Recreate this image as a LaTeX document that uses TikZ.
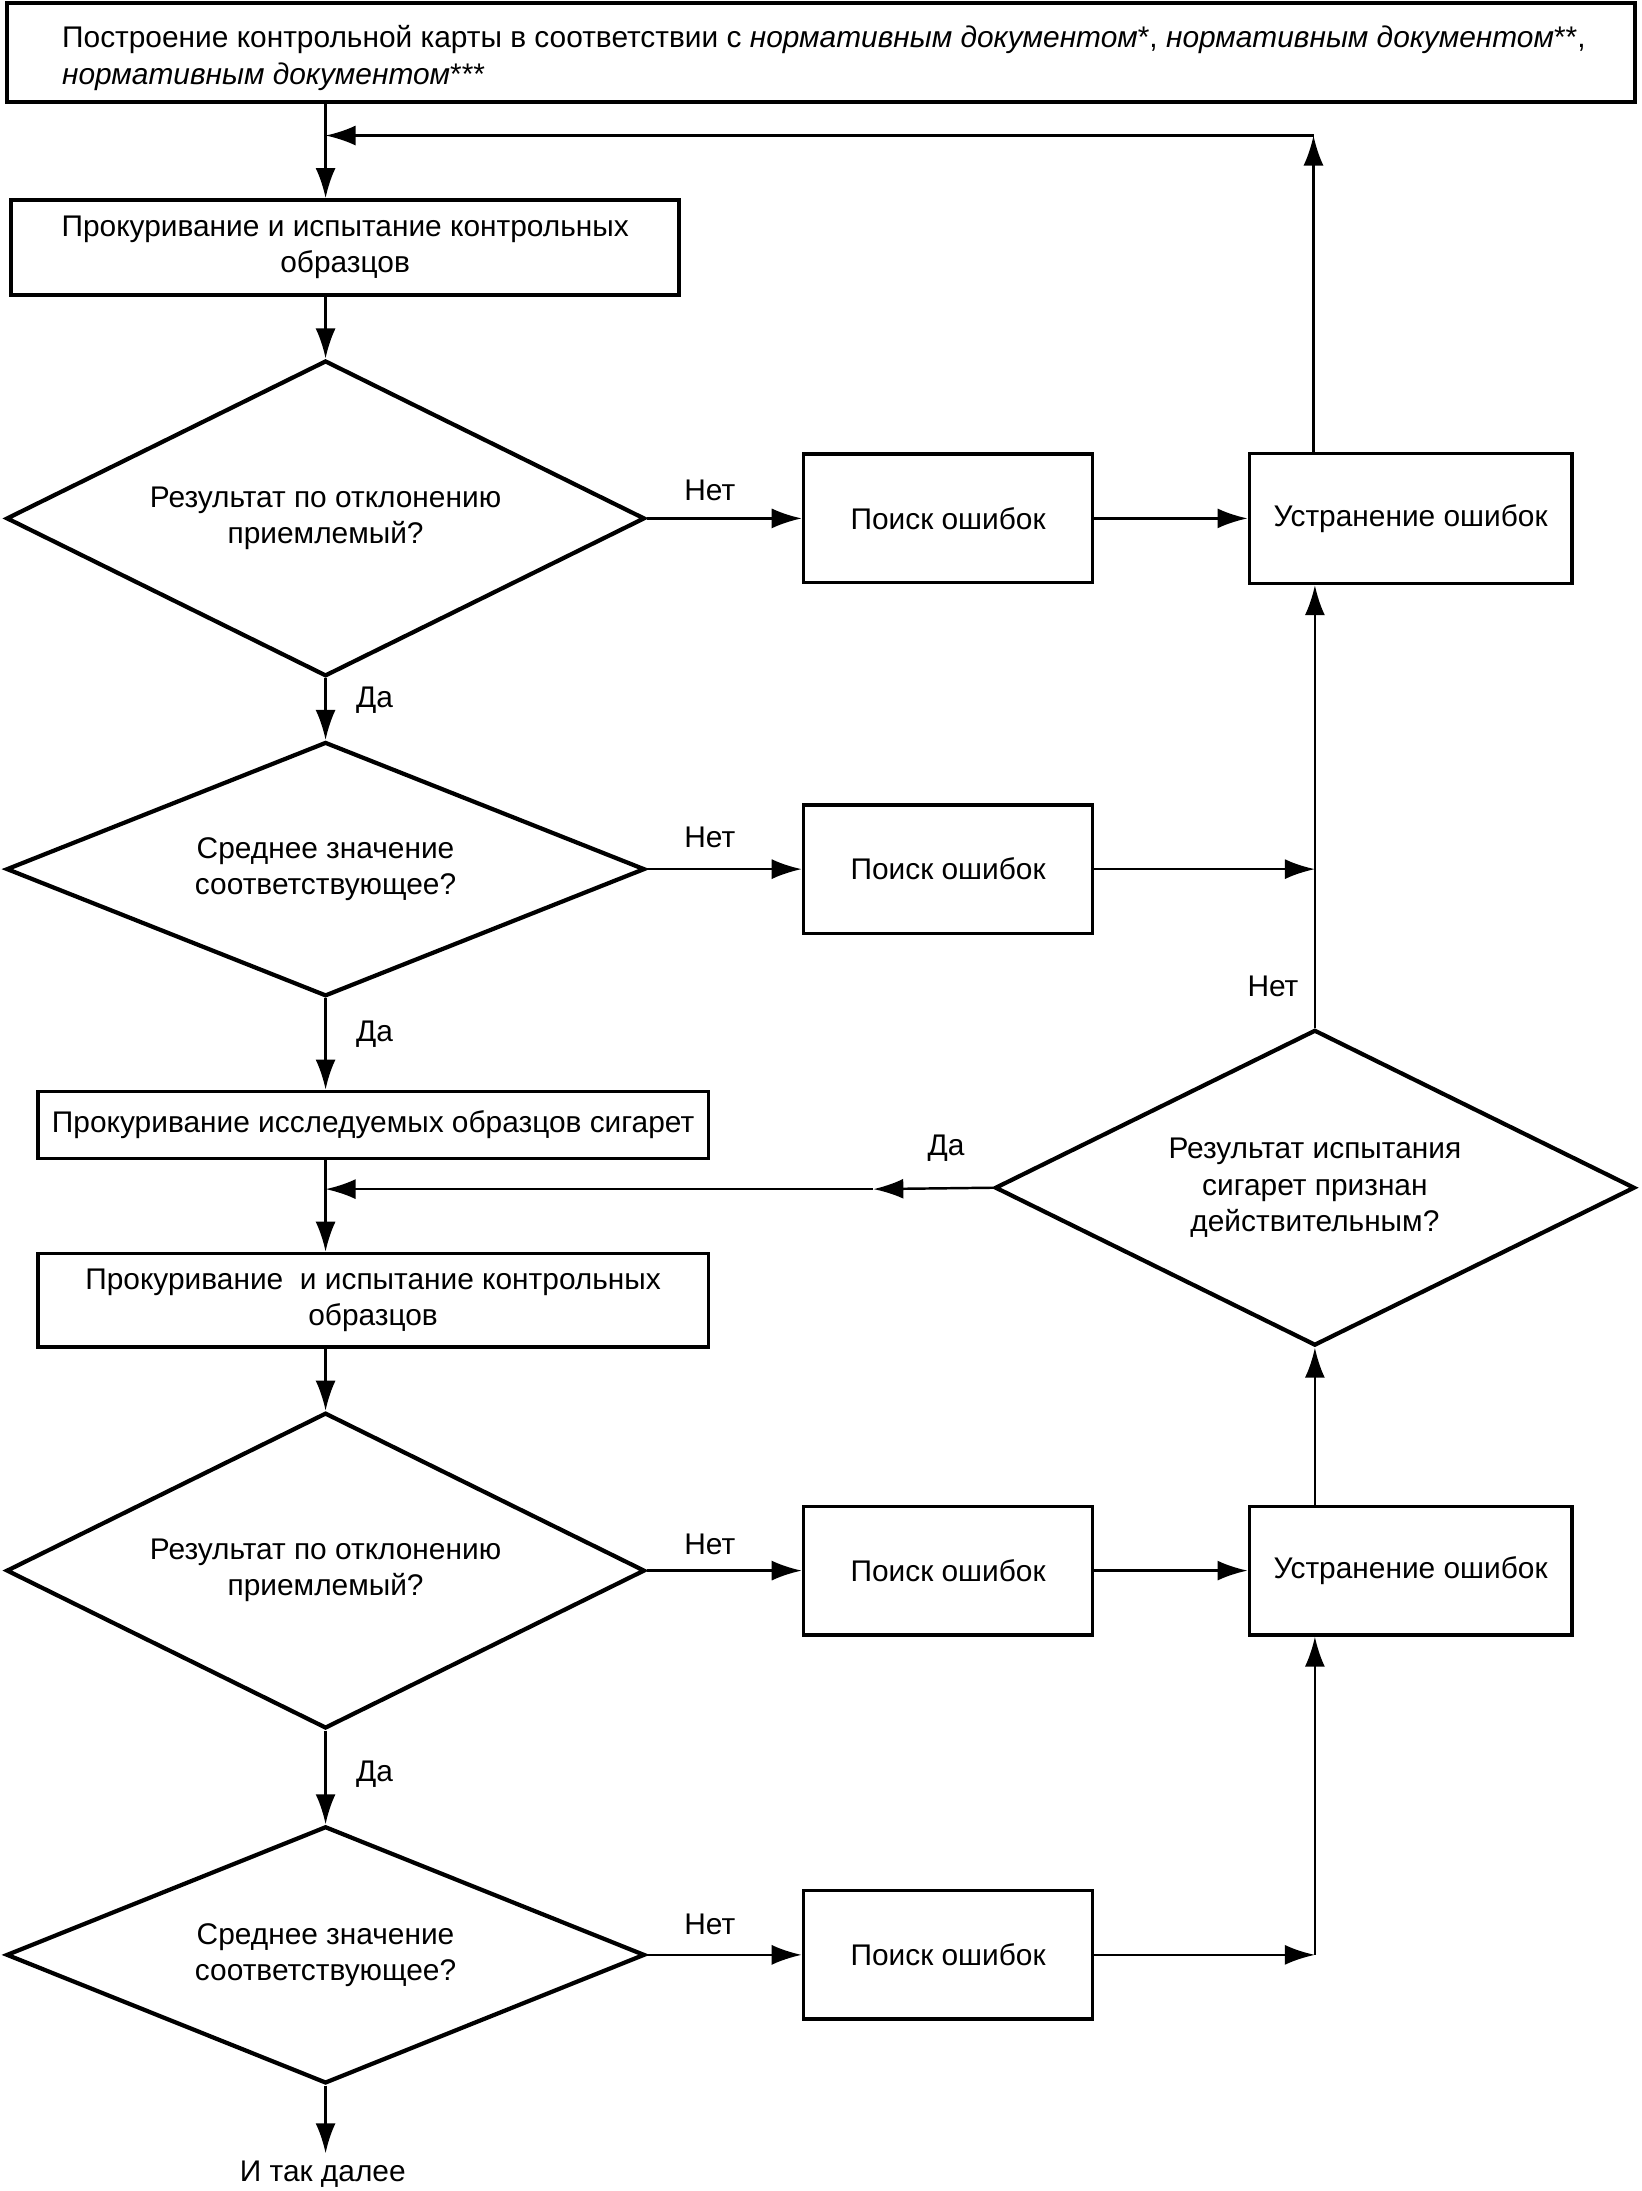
\documentclass[tikz,border=0pt]{standalone}
\usepackage{fontspec}
\setmainfont{Liberation Sans}
\usetikzlibrary{arrows.meta,positioning,shapes.geometric}

\begin{document}
\begin{tikzpicture}[x=0.013974cm,y=-0.013974cm,>={Latex[length=3mm,width=2mm]},
  every node/.style={font=\fontsize{8.5}{10.3}\selectfont},
  box/.style={draw,line width=1pt,align=center,inner sep=0pt},
  decision/.style={draw,diamond,aspect=2,line width=1.2pt,align=center,inner sep=0pt},
  link/.style={->,line width=0.7pt}]
  \useasboundingbox (0,0) rectangle (1175,1568);

  \node[box,minimum width=16.28cm,minimum height=0.99cm] (chart) at (587.5,37.5) {};
  \node[anchor=west,align=left,inner sep=0pt] (charttext) at (44,41.5)
    {Построение контрольной карты в соответствии с \textit{нормативным документом}*, \textit{нормативным документом}**,\\
     \textit{нормативным документом}***};

  \node[box,minimum width=6.68cm,minimum height=0.95cm] (ctrlA) at (247,177) {Прокуривание и испытание контрольных\\образцов};
  \node[decision,minimum width=6.386cm,minimum height=3.158cm] (devA) at (233,371) {Результат по отклонению\\приемлемый?};
  \node[box,minimum width=2.893cm,minimum height=1.286cm] (findA) at (678.5,371) {Поиск ошибок};
  \node[box,minimum width=3.228cm,minimum height=1.3cm] (fixA) at (1009.5,371) {Устранение ошибок};
  \node[decision,aspect=2.5,minimum width=6.386cm,minimum height=2.543cm] (meanA) at (233,622) {Среднее значение\\соответствующее?};
  \node[box,minimum width=2.893cm,minimum height=1.286cm] (findB) at (678.5,622) {Поиск ошибок};
  \node[box,minimum width=6.708cm,minimum height=0.671cm] (smoke) at (267,805) {Прокуривание исследуемых образцов сигарет};
  \node[decision,minimum width=6.4cm,minimum height=3.158cm] (valid) at (941,850) {Результат испытания\\сигарет признан\\действительным?};
  \node[box,minimum width=6.708cm,minimum height=0.936cm] (ctrlB) at (267,930.5) {Прокуривание\ \ и испытание контрольных\\образцов};
  \node[decision,minimum width=6.386cm,minimum height=3.158cm] (devB) at (233,1124) {Результат по отклонению\\приемлемый?};
  \node[box,minimum width=2.893cm,minimum height=1.286cm] (findC) at (678.5,1124) {Поиск ошибок};
  \node[box,minimum width=3.228cm,minimum height=1.286cm] (fixB) at (1009.5,1124) {Устранение ошибок};
  \node[decision,aspect=2.5,minimum width=6.386cm,minimum height=2.571cm] (meanB) at (233,1399) {Среднее значение\\соответствующее?};
  \node[box,minimum width=2.893cm,minimum height=1.286cm] (findD) at (678.5,1399) {Поиск ошибок};
  \node (etc) at (231,1556) {И так далее};

  \node (noA) at (508,351) {Нет};
  \node (yesA) at (268,501) {Да};
  \node (noB) at (508,599) {Нет};
  \node (yesB) at (268,740) {Да};
  \node (noV) at (911,706) {Нет};
  \node (yesV) at (677,822) {Да};
  \node (noC) at (508,1105) {Нет};
  \node (yesC) at (268,1270) {Да};
  \node (noD) at (508,1377) {Нет};

  \coordinate (backA) at (940,97);
  \coordinate (joinA) at (233,97);
  \coordinate (hubA) at (valid.north |- findB.east);
  \coordinate (yesmid) at (625,851);
  \coordinate (joinB) at (233,851);
  \coordinate (hubB) at (valid.north |- findD.east);
  \coordinate (end) at (233,1541);

  \draw[link] (chart.south -| joinA) -- (ctrlA.north -| joinA);
  \draw[link] (fixA.north -| backA) -- (backA);
  \draw[link] (backA) -- (joinA);
  \draw[link] (ctrlA.south -| devA) -- (devA.north);
  \draw[link] (devA.east) -- (findA.west);
  \draw[link] (findA.east) -- (fixA.west);
  \draw[link] (devA.south) -- (meanA.north);
  \draw[link] (meanA.east) -- (findB.west);
  \draw[link] (findB.east) -- (hubA);
  \draw[link] (valid.north) -- (fixA.south -| valid.north);
  \draw[link] (meanA.south) -- (smoke.north -| meanA.south);
  \draw[link] (smoke.south -| joinB) -- (ctrlB.north -| joinB);
  \draw[link] (valid.west) -- (yesmid);
  \draw[link] (yesmid) -- (joinB);
  \draw[link] (ctrlB.south -| devB.north) -- (devB.north);
  \draw[link] (devB.east) -- (findC.west);
  \draw[link] (findC.east) -- (fixB.west);
  \draw[link] (fixB.north -| valid.south) -- (valid.south);
  \draw[link] (devB.south) -- (meanB.north);
  \draw[link] (meanB.east) -- (findD.west);
  \draw[link] (findD.east) -- (hubB);
  \draw[link] (hubB) -- (fixB.south -| hubB);
  \draw[link] (meanB.south) -- (end);
\end{tikzpicture}
\end{document}
